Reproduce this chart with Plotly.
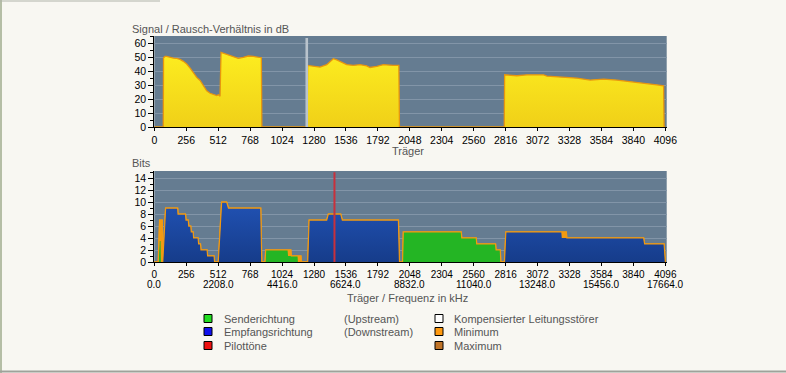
import plotly.graph_objects as go

# ---------------- data ----------------
snr_carrier = [0, 72, 74, 86, 99, 126, 153, 180, 206, 233, 260, 287, 313, 340, 367, 393, 420, 447, 474, 500,
               514, 527, 535, 580, 633, 673, 713, 754, 794, 847, 858, 862,
               1225, 1229, 1275, 1328, 1382, 1435, 1462, 1502, 1542, 1595, 1649, 1702, 1729, 1783, 1836, 1916, 1960, 1965,
               2805, 2808, 2906, 2986, 3120, 3147, 3280, 3387, 3494, 3601, 3708, 3815, 3921, 4028, 4082, 4086, 4096]
snr_db = [0, 0, 49.5, 50.4, 50.4, 49.7, 49.2, 49.0, 48.3, 46.9, 45.0, 42.0, 38.5, 35.4, 33.2, 30.0, 25.8, 24.1, 23.4, 22.5,
          23.0, 22.0, 53.3, 52.0, 50.2, 49.0, 49.7, 50.7, 50.4, 49.5, 49.5, 0,
          0, 44.0, 43.3, 42.8, 44.5, 48.8, 48.0, 46.1, 44.5, 44.0, 44.5, 43.7, 42.5, 43.3, 44.5, 44.0, 44.0, 0,
          0, 37.3, 36.6, 37.3, 37.3, 36.3, 35.6, 34.9, 33.5, 34.2, 33.5, 32.5, 31.3, 30.1, 29.4, 0, 0]

down_carrier = [68, 91, 187, 190, 250, 254, 272, 276, 292, 296, 311, 315, 351, 355, 370, 374, 423, 427, 479, 483,
                513, 540, 580, 594, 853, 861, 1230, 1241, 1382, 1395, 1494, 1507, 1956, 1965, 2807, 2818,
                3262, 3266, 3922, 3930, 4086, 4096]
down_bits = [0, 9, 9, 8, 8, 7, 7, 6, 6, 5, 5, 4, 4, 3, 3, 2, 2, 1, 1, 0,
             0, 10, 10, 9, 9, 0, 0, 7, 7, 8, 8, 7, 7, 0, 0, 5,
             5, 4, 4, 3, 3, 0]

up_carrier = [34, 42, 50, 53, 888, 893, 1068, 1072, 1148, 1151, 1990, 1996, 2460, 2464, 2580, 2584, 2735, 2739, 2773, 2777]
up_bits = [0, 3.5, 3.5, 0, 0, 2, 2, 1, 1, 0, 0, 5, 5, 4, 4, 3, 3, 2, 2, 0]

min_carrier = [0, 32, 43, 64, 68, 91, 187, 190, 250, 254, 272, 276, 292, 296, 311, 315, 351, 355, 370, 374,
               423, 427, 479, 483, 513, 540, 580, 594, 853, 861, 888, 893, 1094, 1098, 1175, 1178, 1230, 1241, 1382, 1395,
               1494, 1507, 1956, 1965, 1990, 1996, 2460, 2464, 2580, 2584, 2735, 2739, 2773, 2777, 2807, 2818,
               3302, 3306, 3922, 3930, 4086, 4096]
min_bits = [0, 0, 7, 7, 0, 9, 9, 8, 8, 7, 7, 6, 6, 5, 5, 4, 4, 3, 3, 2,
            2, 1, 1, 0, 0, 10, 10, 9, 9, 0, 0, 2, 2, 1, 1, 0, 0, 7, 7, 8,
            8, 7, 7, 0, 0, 5, 5, 4, 4, 3, 3, 2, 2, 0, 0, 5,
            5, 4, 4, 3, 3, 0]

pilot_carrier = [1444]
disturber_carrier = [1222]

carrier_ticks = list(range(0, 4097, 256))
carrier_labels = [str(v) for v in carrier_ticks]
freq_ticks = list(range(0, 4097, 512))
freq_labels = ["0.0", "2208.0", "4416.0", "6624.0", "8832.0", "11040.0", "13248.0", "15456.0", "17664.0"]

legend_rows = [
    ("Senderichtung", "(Upstream)", "#22DD22", "Kompensierter Leitungsstörer", "#FFFFFF"),
    ("Empfangsrichtung", "(Downstream)", "#1010EE", "Minimum", "#FF9A10"),
    ("Pilottöne", "", "#EE1111", "Maximum", "#C07428"),
]

# ---------------- style ----------------
W, H = 786, 373
FONT = "Liberation Sans, Arial, sans-serif"
BG = "#F8F7F2"
PLOT_BG = "#657C91"
GRID = "#8295A8"
ORANGE = "#F29A12"
XR = [0, 4107]

def px_x(p):
    return p / W

def px_y(p):
    return (H - p) / H

xdom = [px_x(154.3), px_x(666.7)]
ydom1 = [px_y(127), px_y(36)]
ydom2 = [px_y(262), px_y(171)]

fig = go.Figure()

# SNR chart
fig.add_trace(go.Scatter(
    x=snr_carrier, y=snr_db, mode="lines", fill="tozeroy",
    line=dict(color="#E8960E", width=1.3),
    fillgradient=dict(type="vertical", start=0, stop=55,
                      colorscale=[[0, "#F0D018"], [1, "#FDEE20"]]),
    xaxis="x", yaxis="y", name="SNR", showlegend=False, hoverinfo="skip"))
fig.add_trace(go.Scatter(
    x=[disturber_carrier[0], disturber_carrier[0]], y=[0, 63.5], mode="lines",
    line=dict(color="#B9C3CC", width=2.6), xaxis="x", yaxis="y",
    showlegend=False, hoverinfo="skip"))

# Bits chart
fig.add_trace(go.Scatter(
    x=min_carrier, y=min_bits, mode="lines", fill="tozeroy",
    fillcolor=ORANGE, line=dict(color=ORANGE, width=1.4),
    xaxis="x2", yaxis="y2", showlegend=False, hoverinfo="skip"))
fig.add_trace(go.Scatter(
    x=down_carrier, y=down_bits, mode="lines", fill="tozeroy",
    line=dict(width=0, color="rgba(0,0,0,0)"),
    fillgradient=dict(type="vertical", start=0, stop=10,
                      colorscale=[[0, "#163C8A"], [1, "#2152B4"]]),
    xaxis="x2", yaxis="y2", showlegend=False, hoverinfo="skip"))
fig.add_trace(go.Scatter(
    x=up_carrier, y=up_bits, mode="lines", fill="tozeroy",
    line=dict(width=0, color="rgba(0,0,0,0)"), fillcolor="#24B524",
    xaxis="x2", yaxis="y2", showlegend=False, hoverinfo="skip"))
fig.add_trace(go.Scatter(
    x=min_carrier, y=min_bits, mode="lines",
    line=dict(color=ORANGE, width=1.1),
    xaxis="x2", yaxis="y2", showlegend=False, hoverinfo="skip"))
fig.add_trace(go.Scatter(
    x=[pilot_carrier[0], pilot_carrier[0]], y=[0, 15.0], mode="lines",
    line=dict(color="#C8303C", width=2), xaxis="x2", yaxis="y2",
    showlegend=False, hoverinfo="skip"))

tickfont = dict(family=FONT, size=10.5, color="#000000")
tickfont_b = dict(family=FONT, size=10, color="#000000")
common_x = dict(range=XR, domain=xdom, tickvals=carrier_ticks, ticktext=carrier_labels,
                showline=True, linecolor="#000000", linewidth=1, ticks="outside", ticklen=3,
                tickcolor="#000000", showgrid=False, zeroline=False,
                automargin=False)
common_y = dict(showline=True, linecolor="#000000", linewidth=1, ticks="outside", ticklen=5,
                tickcolor="#000000", showgrid=True, gridcolor=GRID, gridwidth=1, zeroline=False,
                tickfont=tickfont, automargin=False)

fig.update_layout(
    width=W, height=H, autosize=False, margin=dict(l=0, r=0, t=0, b=0, pad=0),
    paper_bgcolor=BG, plot_bgcolor=PLOT_BG, showlegend=False,
    font=dict(family=FONT, size=11, color="#555555"),
    xaxis=dict(anchor="y", tickfont=tickfont, **common_x),
    yaxis=dict(anchor="x", domain=ydom1, range=[0, 65], dtick=10, tick0=0,
               minor=dict(dtick=5, ticks="outside", ticklen=3, tickcolor="#000000", showgrid=False),
               **common_y),
    xaxis2=dict(anchor="y2", tickfont=tickfont_b, **common_x),
    yaxis2=dict(anchor="x2", domain=ydom2, range=[0, 15.2], dtick=2, tick0=0,
                minor=dict(dtick=1, ticks="outside", ticklen=3, tickcolor="#000000", showgrid=False),
                **common_y),
)

ann = []
def text(x, y, s, anchor="left", color="#555555", size=11):
    ann.append(dict(x=px_x(x), y=px_y(y), xref="paper", yref="paper", text=s, showarrow=False,
                    xanchor=anchor, yanchor="middle", borderpad=0,
                    font=dict(family=FONT, size=size, color=color)))

# second row of x tick labels: frequency in kHz, placed via the carrier axis
for c, lab in zip(freq_ticks, freq_labels):
    ann.append(dict(x=c, y=px_y(284.5), xref="x2", yref="paper", text=lab, showarrow=False,
                    xanchor="center", yanchor="middle", borderpad=0, font=tickfont_b))

text(131, 29, "Signal / Rausch-Verhältnis in dB")
text(407.5, 150.5, "Träger", anchor="center")
text(131, 163, "Bits")
text(407, 297.5, "Träger / Frequenz in kHz", anchor="center")

shapes = []
row_y = [318.5, 331.5, 345.5]
for (lab1, lab2, c1, lab3, c3), yy in zip(legend_rows, row_y):
    shapes.append(dict(type="rect", xref="paper", yref="paper",
                       x0=px_x(204), x1=px_x(212), y0=px_y(yy + 4), y1=px_y(yy - 4),
                       fillcolor=c1, line=dict(color="#000000", width=1)))
    shapes.append(dict(type="rect", xref="paper", yref="paper",
                       x0=px_x(435), x1=px_x(443), y0=px_y(yy + 4), y1=px_y(yy - 4),
                       fillcolor=c3, line=dict(color="#000000", width=1)))
    text(223, yy, lab1)
    if lab2:
        text(343, yy, lab2)
    text(453, yy, lab3)

# frame lines
shapes.append(dict(type="line", xref="paper", yref="paper", x0=px_x(1), x1=px_x(1), y0=0, y1=1,
                   line=dict(color="#B5BEA6", width=2)))
shapes.append(dict(type="line", xref="paper", yref="paper", x0=0, x1=1, y0=px_y(371.5), y1=px_y(371.5),
                   line=dict(color="#9EA29A", width=2)))
shapes.append(dict(type="line", xref="paper", yref="paper", x0=0, x1=px_x(160), y0=px_y(1), y1=px_y(1),
                   line=dict(color="#B0B4AA", width=1)))

fig.update_layout(annotations=ann, shapes=shapes)
fig.write_html("out.html",
               config={"responsive": False, "displayModeBar": False},
               post_script="document.body.style.margin='0';document.body.style.overflow='hidden';")
